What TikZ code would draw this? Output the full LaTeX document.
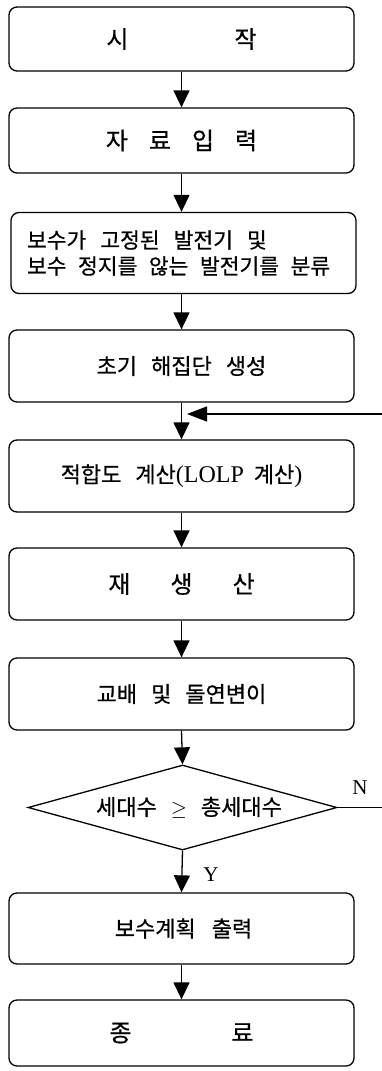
\documentclass[tikz,border=0pt]{standalone}
\usepackage{fontspec}
\setmainfont{Liberation Serif}
\newfontfamily\kr{Noto Sans CJK KR}[FakeBold=0.6]
\usetikzlibrary{arrows.meta,shapes.geometric}
\newcommand{\wsa}{\hspace{14pt}}
\newcommand{\wsb}{\hspace{11.5pt}}
\newcommand{\lat}[1]{{\fontsize{24}{26}\selectfont\rmfamily #1}}
\begin{document}
\begin{tikzpicture}[x=1pt,y=-1pt,
  box/.style={draw, line width=1.3pt, rounded corners=8pt, minimum width=345pt, inner sep=0pt, font=\fontsize{22}{26}\selectfont\kr},
  bigtxt/.style={font=\fontsize{24}{26}\selectfont\kr},
  dia/.style={draw, line width=1.3pt, diamond, aspect=3.6, minimum width=309pt, minimum height=85pt, inner sep=0pt, font=\fontsize{22}{26}\selectfont\kr},
  arr/.style={line width=1.3pt, -{Triangle[width=16pt,length=17pt]}},
  fb/.style={line width=1.3pt, -{Triangle[width=15pt,length=20pt]}},
  lbl/.style={font=\fontsize{21}{22}\selectfont}
]
\useasboundingbox (0,0) rectangle (382,1071);

\node[box, bigtxt, minimum height=64pt] (b1) at (181.5,39) {시\hspace{106pt}작\hspace{13pt}};
\node[box, bigtxt, minimum height=65pt] (b2) at (181.5,140.5) {자\hspace{21pt}료\hspace{21pt}입\hspace{21pt}력\hspace{5pt}};
\node[box, minimum height=81pt, text width=313pt, align=left, font=\fontsize{21.5}{26}\selectfont\kr] (b3) at (183.5,253) {\mbox{보수가\wsa 고정된\wsa 발전기\wsa 및}\\\mbox{보수\wsb 정지를\wsb 않는\wsb 발전기를\wsb 분류}};
\node[box, minimum height=72pt] (b4) at (181.5,366) {초기\hspace{14pt}해집단\hspace{14pt}생성};
\node[box, minimum height=72pt] (b5) at (181.5,476) {적합도\hspace{14pt}계산\lat{(LOLP}\hspace{10pt}계산\lat{)}};
\node[box, bigtxt, minimum height=72pt] (b6) at (181.5,584) {재\hspace{40pt}생\hspace{40pt}산\hspace{7pt}};
\node[box, minimum height=72pt] (b7) at (181.5,694) {교배\hspace{14pt}및\hspace{14pt}돌연변이};
\node[dia] (d) at (182.5,807.5) {\hspace*{13pt}세대수\hspace{14pt}$\geq$\hspace{14pt}총세대수};
\node[box, minimum height=71pt] (b8) at (181.5,928.5) {\hspace*{4pt}보수계획\hspace{16pt}출력};
\node[box, bigtxt, minimum height=66pt] (b9) at (181.5,1033) {종\hspace{100pt}료\hspace{3pt}};

\coordinate (fbR) at (382,414);
\coordinate (fbL) at (187,414);
\coordinate (nR) at (382,807.5);

\draw[arr] (b1) -- (b2);
\draw[arr] (b2) -- (b3.north -| b2.south);
\draw[arr] (b3.south -| b2.south) -- (b4.north -| b2.south);
\draw[arr] (b4) -- (b5);
\draw[arr] (b5) -- (b6);
\draw[arr] (b6) -- (b7);
\draw[arr] (b7.south) -- (d.north);
\draw[arr] (d.south) -- (b8.north);
\draw[arr] (b8) -- (b9);
\draw[fb] (fbR) -- (fbL);
\draw[line width=1.3pt] (d.east) -- (nR);

\node[lbl] (N) at (360,788) {N};
\node[lbl] (Y) at (211,875) {Y};
\end{tikzpicture}
\end{document}
